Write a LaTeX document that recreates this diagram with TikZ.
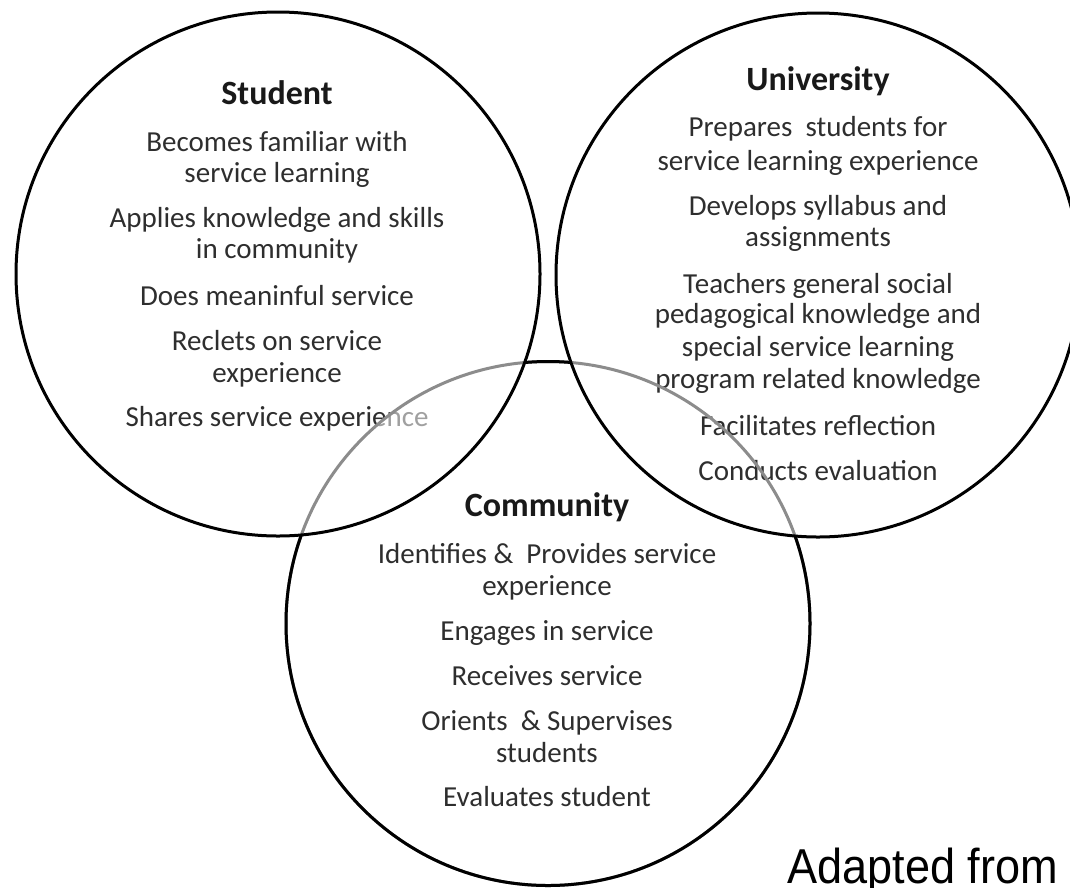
\documentclass[tikz,border=0pt]{standalone}
\usepackage{fontspec}
\setmainfont{Carlito}
\newfontfamily\notefont[FakeStretch=0.92]{Liberation Sans}
\begin{document}
\begin{tikzpicture}[x=1pt,y=-1pt,
  item/.style={anchor=base, inner sep=0pt, text=black!82, font=\fontsize{29}{32}\selectfont},
  head/.style={anchor=base, inner sep=0pt, text=black!90, font=\fontsize{34}{38}\selectfont\bfseries},
  ring/.style={line width=3pt, draw=black},
  fadedring/.style={line width=3pt, draw=black!45},
]
\useasboundingbox[fill=white] (0,0) rectangle (1070,887);

% circle centres
\coordinate (sc) at (278,274);
\coordinate (uc) at (818,275);
\coordinate (cc) at (548,623.5);

% Student
\node[head] (s0) at (277,104) {Student};
\node[item] (s1) at (277,151) {Becomes familiar with};
\node[item] (s2) at (277,182) {service learning};
\node[item] (s3) at (277,227) {Applies knowledge and skills};
\node[item] (s4) at (277,258) {in community};
\node[item] (s5) at (277,305) {Does meaninful service};
\node[item] (s6) at (277,350) {Reclets on service};
\node[item] (s7) at (277,382) {experience};
\node[item] (s8) at (277,426) {Shares service experience};

% the community disc veils the student text it covers
\fill[white, opacity=0.55] (cc) circle[radius=262pt];

% University
\node[head] (u0) at (818,90) {University};
\node[item] (u1) at (818,136) {Prepares~ students for};
\node[item] (u2) at (818,170) {service learning experience};
\node[item] (u3) at (818,215) {Develops syllabus and};
\node[item] (u4) at (818,246) {assignments};
\node[item] (u5) at (818,293) {Teachers general social};
\node[item] (u6) at (818,323) {pedagogical knowledge and};
\node[item] (u7) at (818,356) {special service learning};
\node[item] (u8) at (818,388) {program related knowledge};
\node[item] (u9) at (818,435) {Facilitates reflection};
\node[item] (u10) at (818,480) {Conducts evaluation};

% Community
\node[head] (c0) at (547,516) {Community};
\node[item] (c1) at (547,563) {Identifies \&~ Provides service};
\node[item] (c2) at (547,595) {experience};
\node[item] (c3) at (547,640) {Engages in service};
\node[item] (c4) at (547,685) {Receives service};
\node[item] (c5) at (547,730) {Orients~ \& Supervises};
\node[item] (c6) at (547,762) {students};
\node[item] (c7) at (547,806) {Evaluates student};

% community ring: light where it runs inside the other two circles
\draw[fadedring] (cc) circle[radius=262pt];
\begin{scope}[even odd rule]
  \clip (0,0) rectangle (1070,887)
    (sc) circle[radius=262pt] (uc) circle[radius=262pt];
  \draw[ring] (cc) circle[radius=262pt];
\end{scope}
\draw[ring] (sc) circle[radius=262pt];
\draw[ring] (uc) circle[radius=262pt];

\node[anchor=base west, inner sep=0pt, font=\notefont\fontsize{49}{55}\selectfont] (note) at (787,883) {Adapted from};
\end{tikzpicture}
\end{document}
